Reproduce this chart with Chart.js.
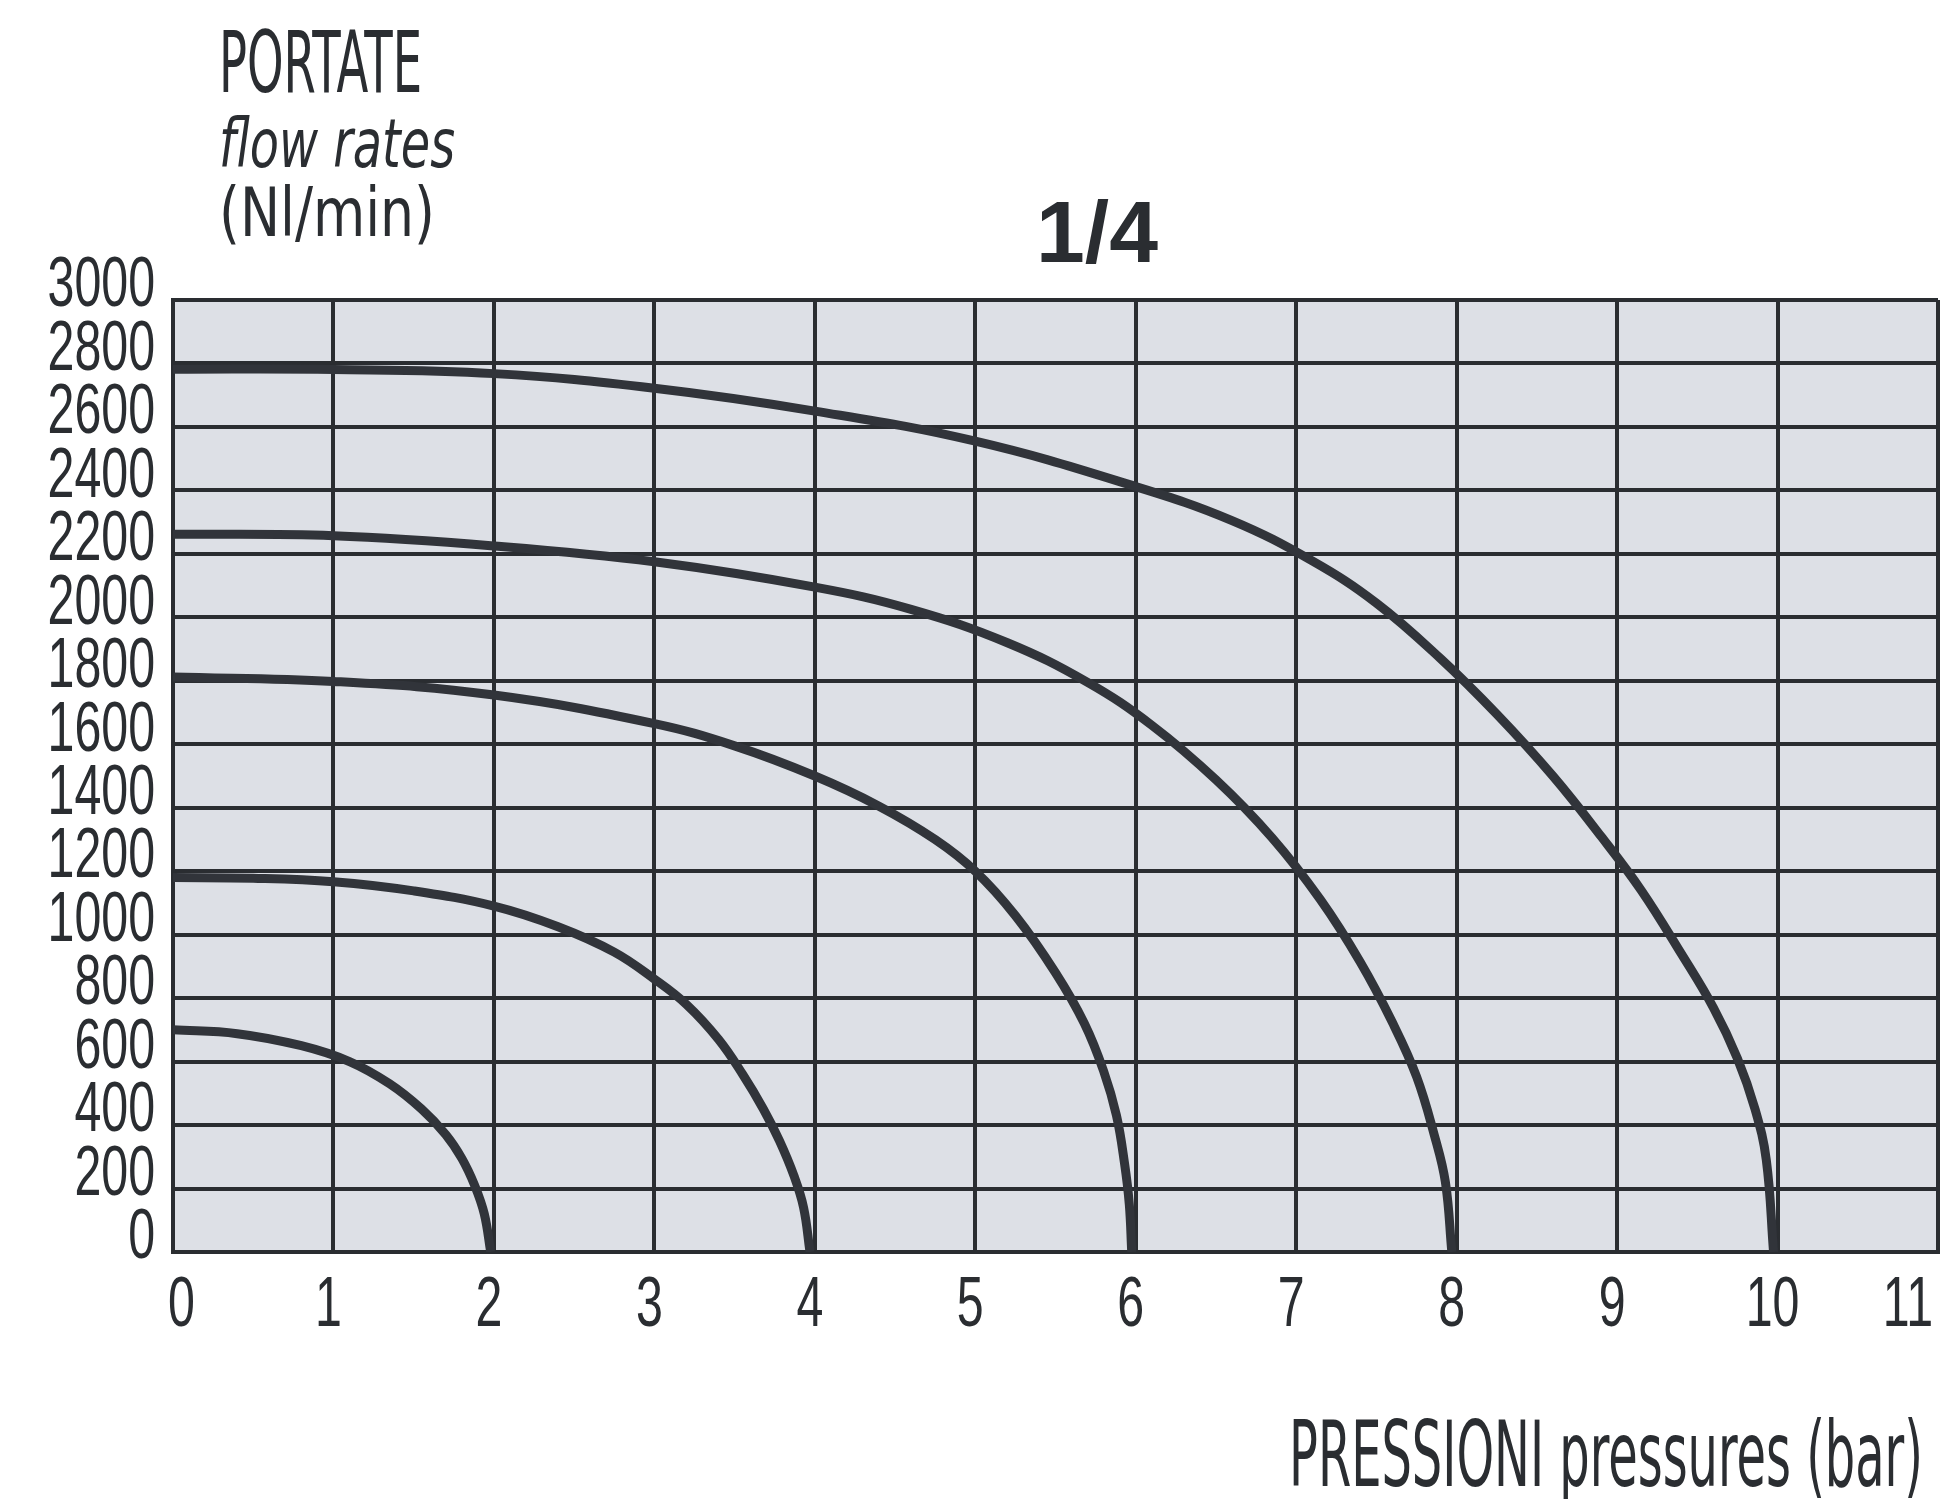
<!DOCTYPE html>
<html>
<head>
<meta charset="utf-8">
<title>Portate 1/4</title>
<script src="https://cdn.jsdelivr.net/npm/chart.js@4.4.1/dist/chart.umd.min.js"></script>
<style>
  html, body { margin: 0; padding: 0; background: #fff; }
  #wrap { width: 1949px; height: 1499px; }
</style>
</head>
<body>
<div id="wrap"><canvas id="flow-chart" width="1949" height="1499"></canvas></div>
<script>
// Axis ticks
const pressureTicks = [0, 1, 2, 3, 4, 5, 6, 7, 8, 9, 10, 11];
const flowTicks = [0, 200, 400, 600, 800, 1000, 1200, 1400, 1600, 1800, 2000, 2200, 2400, 2600, 2800, 3000];

// Curves: pressure (bar) -> flow (Nl/min)
const curve2barX = [0, 0.4, 0.8, 1.1, 1.35, 1.55, 1.7, 1.8, 1.88, 1.94, 1.98];
const curve2barY = [700, 688, 650, 600, 530, 450, 370, 295, 210, 120, 0];

const curve4barX = [0, 0.5, 1, 1.5, 2, 2.4, 2.75, 3.0, 3.2, 3.4, 3.55, 3.68, 3.78, 3.87, 3.93, 3.97];
const curve4barY = [1180, 1178, 1167, 1138, 1090, 1025, 945, 860, 780, 670, 560, 450, 350, 240, 140, 0];

const curve6barX = [0, 1, 2, 3, 3.5, 4, 4.4, 4.75, 5.0, 5.25, 5.5, 5.68, 5.8, 5.88, 5.93, 5.96, 5.975];
const curve6barY = [1812, 1798, 1755, 1665, 1595, 1500, 1405, 1300, 1200, 1060, 880, 720, 570, 430, 280, 150, 0];

const curve8barX = [0, 1, 2, 3, 4, 4.6, 5.2, 5.7, 6.1, 6.5, 6.85, 7.15, 7.4, 7.6, 7.75, 7.86, 7.93, 7.97];
const curve8barY = [2262, 2257, 2225, 2175, 2095, 2025, 1920, 1795, 1660, 1488, 1305, 1111, 913, 723, 553, 370, 220, 0];

const curve10barX = [0, 1, 2, 3, 4, 5, 6, 6.6, 7.1, 7.5, 7.9, 8.25, 8.6, 8.9, 9.15, 9.4, 9.6, 9.75, 9.86, 9.93, 9.975];
const curve10barY = [2782, 2781, 2768, 2722, 2650, 2555, 2412, 2305, 2178, 2045, 1870, 1695, 1500, 1310, 1140, 940, 770, 610, 450, 290, 0];

const inkColor = '#2a2d31';
const curveColor = '#31343a';
const plotFill = '#dde0e6';
const narrowFont = '"Liberation Sans Narrow", "DejaVu Sans Condensed", "Liberation Sans", sans-serif';
const tickSqueeze = 0.69; // the reference uses a very condensed face

function toPoints(xs, ys) {
  return xs.map((x, i) => ({ x: x, y: ys[i] }));
}

function curve(xs, ys) {
  return {
    data: toPoints(xs, ys),
    showLine: true,
    borderColor: curveColor,
    borderWidth: 9,
    pointRadius: 0,
    fill: false,
    tension: 0.4
  };
}

// draw text squeezed to the width it has in the reference
function fitText(ctx, text, font, x, y, width, align) {
  ctx.save();
  ctx.font = font;
  ctx.fillStyle = inkColor;
  ctx.textBaseline = 'alphabetic';
  ctx.textAlign = 'left';
  const w = ctx.measureText(text).width;
  let left = x;
  if (align === 'right') left = x - width;
  if (align === 'center') left = x - width / 2;
  ctx.translate(left, y);
  ctx.scale(width / w, 1);
  ctx.fillText(text, 0, 0);
  ctx.restore();
}

const plotBackground = {
  id: 'plotBackground',
  beforeDraw(chart) {
    const a = chart.chartArea;
    const ctx = chart.ctx;
    ctx.save();
    ctx.fillStyle = '#ffffff';
    ctx.fillRect(0, 0, chart.width, chart.height);
    ctx.fillStyle = plotFill;
    ctx.fillRect(a.left, a.top, a.right - a.left, a.bottom - a.top);
    ctx.restore();
  }
};

// squeeze the tick labels horizontally around their anchor point
const narrowTicks = {
  id: 'narrowTicks',
  afterLayout(chart) {
    Object.values(chart.scales).forEach(scale => {
      if (scale._narrowed) return;
      scale._narrowed = true;
      const drawLabels = scale.drawLabels.bind(scale);
      scale.drawLabels = function (area) {
        const ctx = this.ctx;
        ctx.fillText = function (text, x, y) {
          this.save();
          this.translate(x, y);
          this.scale(tickSqueeze, 1);
          CanvasRenderingContext2D.prototype.fillText.call(this, text, 0, 0);
          this.restore();
        };
        drawLabels(area);
        delete ctx.fillText;
      };
    });
  }
};

const chartTexts = {
  id: 'chartTexts',
  afterDraw(chart) {
    const ctx = chart.ctx;
    fitText(ctx, 'PORTATE', '86px ' + narrowFont, 219, 92, 203, 'left');
    fitText(ctx, 'flow rates', 'italic 68px ' + narrowFont, 219, 167, 236, 'left');
    fitText(ctx, '(Nl/min)', '68px ' + narrowFont, 219, 236, 216, 'left');
    fitText(ctx, '1/4', 'bold 88px "Liberation Sans", sans-serif', 1097, 262, 122, 'center');
    fitText(ctx, 'PRESSIONI pressures (bar)', '90px ' + narrowFont, 1923, 1486, 634, 'right');
  }
};

const gridStyle = { color: inkColor, lineWidth: 4, drawTicks: false };
const borderStyle = { display: true, color: inkColor, width: 4 };
const tickFont = { family: '"Liberation Sans", sans-serif', size: 70 };

new Chart(document.getElementById('flow-chart'), {
  type: 'scatter',
  data: {
    datasets: [
      curve(curve2barX, curve2barY),
      curve(curve4barX, curve4barY),
      curve(curve6barX, curve6barY),
      curve(curve8barX, curve8barY),
      curve(curve10barX, curve10barY)
    ]
  },
  options: {
    responsive: false,
    animation: false,
    devicePixelRatio: 1,
    layout: { padding: { left: 0, top: 300, right: 11, bottom: 147 } },
    plugins: {
      legend: { display: false },
      tooltip: { enabled: false },
      title: { display: false }
    },
    scales: {
      x: {
        type: 'linear',
        min: 0,
        max: 11,
        afterBuildTicks(s) { s.ticks = pressureTicks.map(v => ({ value: v })); },
        afterFit(s) { s.height = 100; s.paddingLeft = 0; s.paddingRight = 0; },
        grid: gridStyle,
        border: borderStyle,
        ticks: {
          color: inkColor,
          padding: 13,
          labelOffset: -5,
          align: 'inner',
          maxRotation: 0,
          autoSkip: false,
          font: tickFont,
          callback: v => String(v)
        }
      },
      y: {
        type: 'linear',
        min: 0,
        max: 3000,
        afterBuildTicks(s) { s.ticks = flowTicks.map(v => ({ value: v })); },
        afterFit(s) { s.width = 173; s.paddingTop = 0; s.paddingBottom = 0; },
        grid: gridStyle,
        border: borderStyle,
        ticks: {
          color: inkColor,
          padding: 18,
          labelOffset: -13,
          autoSkip: false,
          font: tickFont,
          callback: v => String(v)
        }
      }
    }
  },
  plugins: [plotBackground, narrowTicks, chartTexts]
});
</script>
</body>
</html>
